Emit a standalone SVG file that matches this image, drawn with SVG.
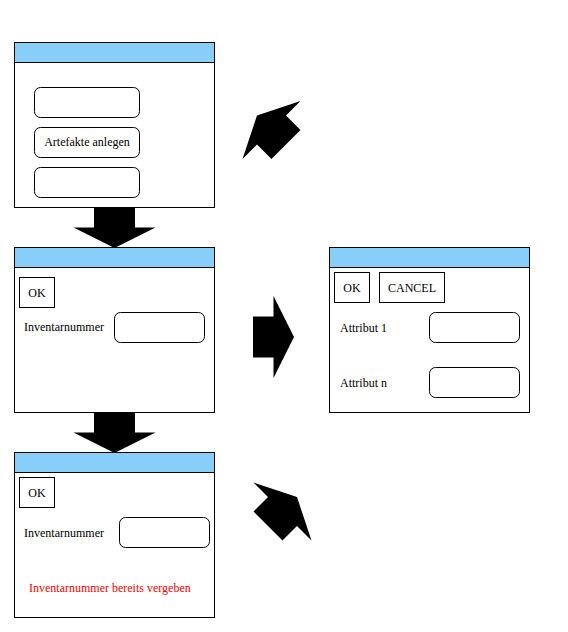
<svg xmlns="http://www.w3.org/2000/svg" xmlns:xlink="http://www.w3.org/1999/xlink" width="568" height="632" viewBox="0 0 568 632">
<style>
.win{fill:#fff;stroke:#000;stroke-width:1}
.bar{fill:#87cefa;stroke:#000;stroke-width:1}
.btn{fill:#fff;stroke:#000;stroke-width:1}
.t{font-family:"Liberation Serif",serif;font-size:12px;fill:#000}
.c{text-anchor:middle}
.err{fill:#ff0000}
.arr{fill:#000;stroke:none}
</style>
<defs>
<polygon id="arrow" points="0,-20.5 20.5,-20.5 20.5,-41 41,0 20.5,41 20.5,20.5 0,20.5"/>
</defs>
<rect width="568" height="632" fill="#fff"/>
<g id="window1">
<rect class="win" x="14.5" y="42.5" width="200" height="165"/>
<rect class="bar" x="14.5" y="42.5" width="200" height="20"/>
<rect class="btn" x="34.5" y="87.5" width="105" height="30" rx="6"/>
<rect class="btn" x="34.5" y="127.5" width="105" height="30" rx="6"/>
<text class="t c" x="87" y="146">Artefakte anlegen</text>
<rect class="btn" x="34.5" y="167.5" width="105" height="30" rx="6"/>
</g>
<g id="window2">
<rect class="win" x="14.5" y="247.5" width="200" height="165"/>
<rect class="bar" x="14.5" y="247.5" width="200" height="20"/>
<rect class="btn" x="19.5" y="277.5" width="35" height="30"/>
<text class="t c" x="37" y="297">OK</text>
<text class="t" x="24" y="331">Inventarnummer</text>
<rect class="btn" x="114.5" y="312.5" width="90" height="30" rx="6"/>
</g>
<g id="window3">
<rect class="win" x="14.5" y="452.5" width="200" height="165"/>
<rect class="bar" x="14.5" y="452.5" width="200" height="20"/>
<rect class="btn" x="19.5" y="477.5" width="35" height="30"/>
<text class="t c" x="37" y="497">OK</text>
<text class="t" x="24" y="537">Inventarnummer</text>
<rect class="btn" x="119.5" y="517.5" width="90" height="30" rx="6"/>
<text class="t err" x="29" y="592">Inventarnummer bereits vergeben</text>
</g>
<g id="window4">
<rect class="win" x="329.5" y="247.5" width="200" height="165"/>
<rect class="bar" x="329.5" y="247.5" width="200" height="20"/>
<rect class="btn" x="334.5" y="272.5" width="35" height="30"/>
<text class="t c" x="352" y="292">OK</text>
<rect class="btn" x="379.5" y="272.5" width="65" height="30"/>
<text class="t c" x="412" y="292">CANCEL</text>
<text class="t" x="340" y="332">Attribut 1</text>
<rect class="btn" x="429.5" y="312.5" width="90" height="30" rx="6"/>
<text class="t" x="340" y="387">Attribut n</text>
<rect class="btn" x="429.5" y="367.5" width="90" height="30" rx="6"/>
</g>
<g id="connectors">
<use xlink:href="#arrow" class="arr" transform="translate(114.5,207) rotate(90)"/>
<use xlink:href="#arrow" class="arr" transform="translate(114.5,412) rotate(90)"/>
<use xlink:href="#arrow" class="arr" transform="translate(253,337)"/>
<use xlink:href="#arrow" class="arr" transform="translate(286,144.5) rotate(225)"/>
<use xlink:href="#arrow" class="arr" transform="translate(268,526) rotate(-45)"/>
</g>
</svg>
